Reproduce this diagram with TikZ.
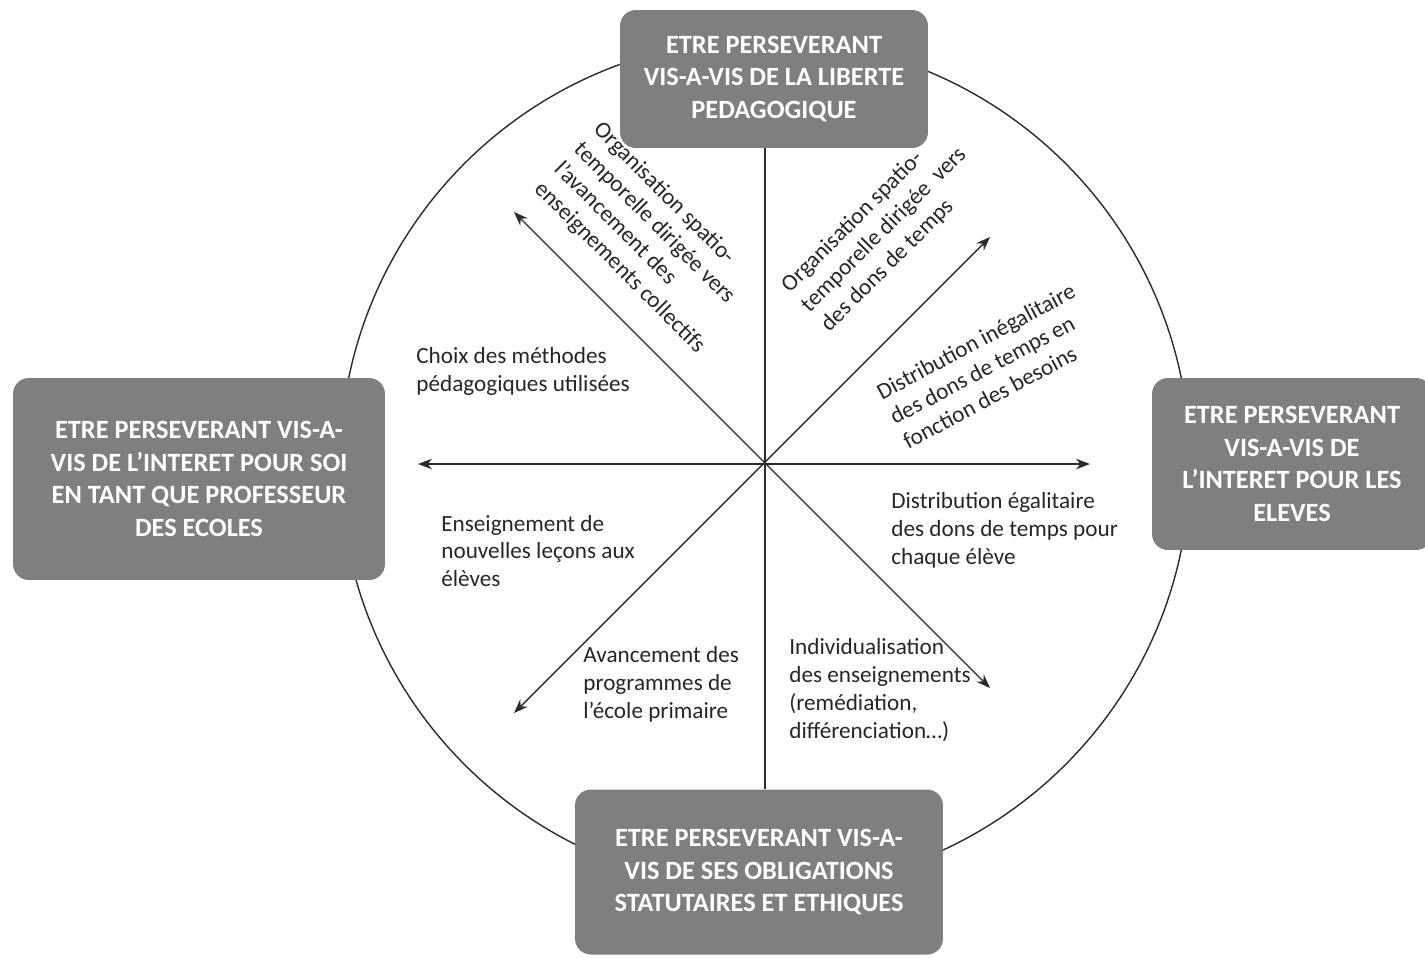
\documentclass[tikz,border=0pt]{standalone}
\usepackage{fontspec}
\setmainfont{Carlito}
\usetikzlibrary{arrows.meta}
\definecolor{boxgray}{HTML}{7F7F7F}
\definecolor{linegray}{HTML}{2B2B2B}
\tikzstyle{arrow} = [{Stealth[length=8pt,width=6pt]}-{Stealth[length=8pt,width=6pt]},line width=0.8pt,draw=linegray]
\tikzstyle{box} = [fill=boxgray,rounded corners=9pt,text=white,align=center,inner sep=0pt,font=\fontsize{15}{18.7}\selectfont\bfseries]
\tikzstyle{lbl} = [align=left,inner sep=0pt,text=black!85,font=\fontsize{13.2}{15.9}\selectfont]

\begin{document}
\begin{tikzpicture}[x=0.02cm,y=-0.02cm]
        \useasboundingbox (0,0) rectangle (1425,957);
        \coordinate (ctr) at (765,464);
        \draw[line width=0.8pt,linegray] (ctr) circle (425);

        % axes
        \coordinate (w) at (418,464);
        \coordinate (e) at (1090,464);
        \coordinate (nw) at (514,212);
        \coordinate (se) at (990,688);
        \coordinate (ne) at (990,237);
        \coordinate (sw) at (514,713);
        \draw[arrow] (w) -- (e);
        \draw[arrow] (nw) -- (se);
        \draw[arrow] (sw) -- (ne);

        % poles
        \node[box,minimum width=6.16cm,minimum height=2.76cm] at (774,79) (top) {ETRE PERSEVERANT\\VIS-A-VIS DE LA LIBERTE\\PEDAGOGIQUE};
        \node[box,minimum width=7.44cm,minimum height=4.04cm] at (199,479) (left) {ETRE PERSEVERANT VIS-A-\\VIS DE L’INTERET POUR SOI\\EN TANT QUE PROFESSEUR\\DES ECOLES};
        \node[box,minimum width=5.6cm,minimum height=3.44cm] at (1292,464) (right) {ETRE PERSEVERANT\\VIS-A-VIS DE\\L’INTERET POUR LES\\ELEVES};
        \node[box,minimum width=7.36cm,minimum height=3.3cm] at (759,872) (bot) {ETRE PERSEVERANT VIS-A-\\VIS DE SES OBLIGATIONS\\STATUTAIRES ET ETHIQUES};
        \draw[line width=0.8pt,linegray] (ctr |- top.south) -- (ctr |- bot.north);

        % texts
        \node[lbl,rotate=-45] at (649,238) (orgcoll) {Organisation spatio-\\temporelle dirigée vers\\l’avancement des\\enseignements collectifs};
        \node[lbl,rotate=45] at (884,230) (orgdons) {Organisation spatio-\\temporelle dirigée~ vers\\des dons de temps};
        \node[lbl,rotate=28] at (989,366) (inegal) {Distribution inégalitaire\\des dons de temps en\\fonction des besoins};
        \node[lbl,anchor=west] at (416,371) (choix) {Choix des méthodes\\pédagogiques utilisées};
        \node[lbl,anchor=west] at (441,551) (lecons) {Enseignement de\\nouvelles leçons aux\\élèves};
        \node[lbl,anchor=west] at (891,530) (egal) {Distribution égalitaire\\des dons de temps pour\\chaque élève};
        \node[lbl,anchor=west] at (583,684) (progr) {Avancement des\\programmes de\\l’école primaire};
        \node[lbl,anchor=west] at (789,690) (indiv) {Individualisation\\des enseignements\\(remédiation,\\différenciation…)};
\end{tikzpicture}
\end{document}
